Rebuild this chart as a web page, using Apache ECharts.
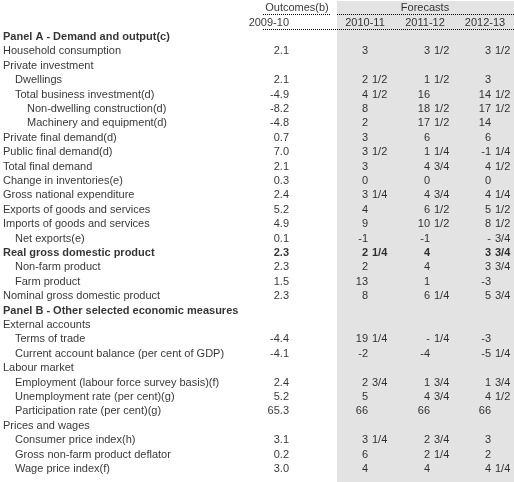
<!DOCTYPE html>
<html><head><meta charset="utf-8">
<script src="https://cdn.jsdelivr.net/npm/echarts@6/dist/echarts.min.js"></script>
<style>html,body{margin:0;padding:0;background:#fff}#c{width:514px;height:482px}</style>
</head><body><div id="c"></div>
<script>
const labels = ["Panel A - Demand and output(c)","Household consumption","Private investment","Dwellings","Total business investment(d)","Non-dwelling construction(d)","Machinery and equipment(d)","Private final demand(d)","Public final demand(d)","Total final demand","Change in inventories(e)","Gross national expenditure","Exports of goods and services","Imports of goods and services","Net exports(e)","Real gross domestic product","Non-farm product","Farm product","Nominal gross domestic product","Panel B - Other selected economic measures","External accounts","Terms of trade","Current account balance (per cent of GDP)","Labour market","Employment (labour force survey basis)(f)","Unemployment rate (per cent)(g)","Participation rate (per cent)(g)","Prices and wages","Consumer price index(h)","Gross non-farm product deflator","Wage price index(f)"];
const indent = [0,0,0,1,1,2,2,0,0,0,0,0,0,0,1,0,1,1,0,0,0,1,1,0,1,1,1,0,1,1,1];
const bold = [0,15,19];
const outcomes = ["","2.1","","2.1","-4.9","-8.2","-4.8","0.7","7.0","2.1","0.3","2.4","5.2","4.9","0.1","2.3","2.3","1.5","2.3","","","-4.4","-4.1","","2.4","5.2","65.3","","3.1","0.2","3.0"];
const f1011 = ["","3","","2 1/2","4 1/2","8","2","3","3 1/2","3","0","3 1/4","4","9","-1","2 1/4","2","13","8","","","19 1/4","-2","","2 3/4","5","66","","3 1/4","6","4"];
const f1112 = ["","3 1/2","","1 1/2","16","18 1/2","17 1/2","6","1 1/4","4 3/4","0","4 3/4","6 1/2","10 1/2","-1","4","4","1","6 1/4","","","- 1/4","-4","","1 3/4","4 3/4","66","","2 3/4","2 1/4","4"];
const f1213 = ["","3 1/2","","3","14 1/2","17 1/2","14","6","-1 1/4","4 1/2","0","4 1/4","5 1/2","8 1/2","- 3/4","3 3/4","3 3/4","-3","5 3/4","","","-3","-5 1/4","","1 3/4","4 1/2","66","","3","2","4 1/4"];
const headerTop = ["Outcomes(b)","Forecasts"];
const headerYears = ["2009-10","2010-11","2011-12","2012-13"];

const FONT = "Liberation Sans";
const indentX = [3,15,27];
const outX = 289;
const intX = [368,430,491];

function lab(align, isBold){
  return {show:true,position:'inside',align:align,verticalAlign:'middle',
    formatter:p=>p.data[2],fontFamily:FONT,fontSize:11,color:'#000',fontWeight:isBold?'bold':'normal'};
}
const series = [];
function add(data, align, isBold){
  series.push({type:'scatter',symbolSize:0,data:data,label:lab(align,isBold),silent:true,animation:false});
}
add(labels.map((t,i)=>bold.includes(i)?null:[indentX[indent[i]],i,t]).filter(Boolean),'left',false);
add(labels.map((t,i)=>bold.includes(i)?[indentX[indent[i]],i,t]:null).filter(Boolean),'left',true);
add(outcomes.map((t,i)=>t?[outX,i,t]:null).filter(Boolean).filter(d=>d[1]!==15),'right',false);
add([[outX,15,outcomes[15]]],'right',true);
[f1011,f1112,f1213].forEach((col,c)=>{
  const ints=[],fracs=[],intsB=[],fracsB=[];
  col.forEach((t,i)=>{
    if(!t) return;
    const parts=t.split(' ');
    let ip=parts[0], fp='';
    if(parts.length>1){fp=parts[1];}
    else if(ip.includes('/')){fp=ip;ip='';}
    const b=i===15;
    if(ip)(b?intsB:ints).push([intX[c],i,ip]);
    if(fp)(b?fracsB:fracs).push([intX[c]+4,i,fp]);
  });
  add(ints,'right',false);add(fracs,'left',false);
  add(intsB,'right',true);add(fracsB,'left',true);
});
add([[297,-2,headerTop[0]],[425,-2,headerTop[1]]],'center',false);
add([[outX,-1,headerYears[0]]],'right',false);
add([[365,-1,headerYears[1]],[425,-1,headerYears[2]],[485,-1,headerYears[3]]],'center',false);

const chart = echarts.init(document.getElementById('c'));
const dot = {stroke:'#000',lineWidth:1,lineDash:[1,1]};
chart.setOption({
  animation:false,
  grid:{left:0,right:0,top:0,bottom:0},
  xAxis:{type:'value',min:0,max:514,show:false},
  yAxis:{type:'value',min:-37/14.4,max:-37/14.4+482/14.4,inverse:true,show:false},
  graphic:[
    {type:'rect',z:-10,shape:{x:337,y:1,width:177,height:481},style:{fill:'#e3e3e3'}},
    {type:'line',shape:{x1:263,y1:14.5,x2:330,y2:14.5},style:dot},
    {type:'line',shape:{x1:337,y1:14.5,x2:514,y2:14.5},style:dot},
    {type:'line',shape:{x1:263,y1:29.5,x2:514,y2:29.5},style:dot}
  ],
  series:series
});
</script></body></html>
